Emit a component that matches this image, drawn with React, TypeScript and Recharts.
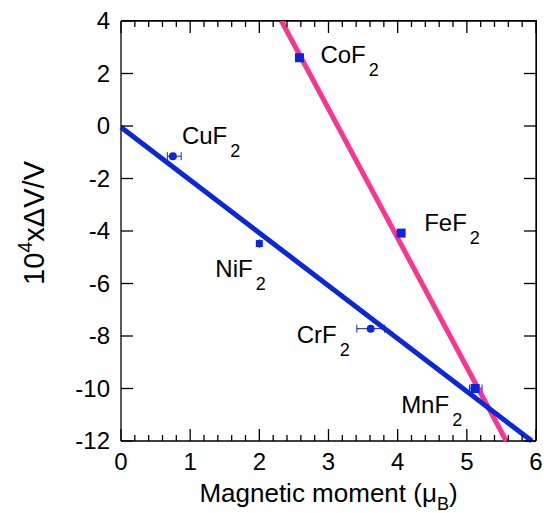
import React from 'react';
import { ComposedChart, ErrorBar, Label, ReferenceLine, Scatter, XAxis, YAxis } from 'recharts';

// measured points
const compounds = ['CuF2', 'NiF2', 'CoF2', 'FeF2', 'CrF2', 'MnF2'];
const moments = [0.75, 2.0, 2.58, 4.05, 3.61, 5.12];
const volumeChange = [-1.15, -4.48, 2.6, -4.08, -7.72, -10.0];
const momentErrLow = [0.08, 0, 0, 0, 0.2, 0.08];
const momentErrHigh = [0.12, 0, 0, 0, 0.2, 0.1];

// fitted lines
const blueFitX = [0, 5.94];
const blueFitY = [-0.05, -12];
const pinkFitX = [2.32, 5.57];
const pinkFitY = [4, -12];

const xTicks = [
  0, 0.2, 0.4, 0.6, 0.8, 1, 1.2, 1.4, 1.6, 1.8, 2, 2.2, 2.4, 2.6, 2.8, 3,
  3.2, 3.4, 3.6, 3.8, 4, 4.2, 4.4, 4.6, 4.8, 5, 5.2, 5.4, 5.6, 5.8, 6,
];
const yTicks = [-12, -10, -8, -6, -4, -2, 0, 2, 4];
const X_MAX = 6;
const Y_MAX = 4;

const BLUE = '#0b28d8';
const MARKER = '#0a24e6';
const PINK = '#f8358f';
const FONT = '"Liberation Sans", Arial, sans-serif';

const W = 544;
const H = 513;
const MARGIN = { top: 21, right: 8, bottom: 0, left: 0 };
const Y_AXIS_W = 121;
const X_AXIS_H = 72;
const PLOT_TOP = 21;
const PLOT_RIGHT = 536;

// marker shape and label placement per compound (pixels from the point)
const pointStyle: Record<string, { shape: 'square' | 'circle'; size: number; dx: number; dy: number }> = {
  CuF2: { shape: 'circle', size: 8, dx: 9, dy: -12 },
  NiF2: { shape: 'square', size: 7, dx: -44, dy: 33 },
  CoF2: { shape: 'square', size: 9, dx: 21, dy: 5 },
  FeF2: { shape: 'square', size: 9, dx: 23, dy: -2 },
  CrF2: { shape: 'circle', size: 8, dx: -74, dy: 14 },
  MnF2: { shape: 'square', size: 9, dx: -74, dy: 24 },
};

const points = compounds.map((name, i) => ({
  name,
  x: moments[i],
  y: volumeChange[i],
  err: [momentErrLow[i], momentErrHigh[i]],
}));
const blueFit = blueFitX.map((x, i) => ({ x, y: blueFitY[i] }));
const pinkFit = pinkFitX.map((x, i) => ({ x, y: pinkFitY[i] }));

const renderPoint = (props: any) => {
  const { cx, cy, payload } = props;
  const s = pointStyle[payload.name];
  const base = payload.name.slice(0, -1);
  const sub = payload.name.slice(-1);
  return (
    <g>
      {s.shape === 'square' ? (
        <rect x={cx - s.size / 2} y={cy - s.size / 2} width={s.size} height={s.size} fill={MARKER} />
      ) : (
        <circle cx={cx} cy={cy} r={s.size / 2} fill={MARKER} />
      )}
      <text x={cx + s.dx} y={cy + s.dy} fontSize={24} fill="#000" fontFamily={FONT}>
        {base}
        <tspan fontSize={18} dx={3} dy={13}>
          {sub}
        </tspan>
      </text>
    </g>
  );
};

// bottom ticks point inward; the same ticks are mirrored on the top edge
const XTick = (props: any) => {
  const { x, y, payload } = props;
  const len = Number.isInteger(payload.value) ? 12 : 6;
  return (
    <g>
      <line x1={x} y1={y} x2={x} y2={y - len} stroke="#000" strokeWidth={1.3} />
      <line x1={x} y1={PLOT_TOP} x2={x} y2={PLOT_TOP + len} stroke="#000" strokeWidth={1.3} />
      {len === 12 && (
        <text x={x} y={y + 29} textAnchor="middle" fontSize={24} fill="#000" fontFamily={FONT}>
          {payload.value}
        </text>
      )}
    </g>
  );
};

// left ticks point inward; mirrored on the right edge
const YTick = (props: any) => {
  const { x, y, payload } = props;
  return (
    <g>
      <line x1={x} y1={y} x2={x + 12} y2={y} stroke="#000" strokeWidth={1.3} />
      <line x1={PLOT_RIGHT} y1={y} x2={PLOT_RIGHT - 12} y2={y} stroke="#000" strokeWidth={1.3} />
      <text x={x - 11} y={y + 8} textAnchor="end" fontSize={24} fill="#000" fontFamily={FONT}>
        {payload.value}
      </text>
    </g>
  );
};

const XTitle = (props: any) => {
  const { x, y, width } = props.viewBox;
  return (
    <text x={x + width / 2} y={y + 61} textAnchor="middle" fontSize={26} fill="#000" fontFamily={FONT}>
      Magnetic moment (μ
      <tspan fontSize={18} dy={8}>B</tspan>
      <tspan dy={-8}>)</tspan>
    </text>
  );
};

const YTitle = (props: any) => {
  const { x, y, height } = props.viewBox;
  const tx = x + 44;
  const ty = y + height / 2 - 8;
  return (
    <text
      x={tx}
      y={ty}
      transform={`rotate(-90 ${tx} ${ty})`}
      textAnchor="middle"
      fontSize={29}
      fill="#000"
      fontFamily={FONT}
    >
      10
      <tspan fontSize={20} dy={-12}>4</tspan>
      <tspan dy={12}>xΔV/V</tspan>
    </text>
  );
};

const noDot = () => <g />;

export default function App() {
  const axisLine = { stroke: '#000', strokeWidth: 1.3 };
  return (
    <div style={{ position: 'absolute', left: 0, top: 0, width: W, height: H, fontFamily: FONT }}>
      <ComposedChart width={W} height={H} margin={MARGIN}>
        <XAxis
          type="number"
          dataKey="x"
          domain={[0, X_MAX]}
          ticks={xTicks}
          interval={0}
          tickLine={false}
          tickSize={0}
          tickMargin={0}
          tick={(p: any) => <XTick {...p} />}
          axisLine={axisLine}
          height={X_AXIS_H}
        >
          <Label content={(p: any) => <XTitle {...p} />} />
        </XAxis>
        <YAxis
          type="number"
          dataKey="y"
          domain={[-12, Y_MAX]}
          ticks={yTicks}
          interval={0}
          tickLine={false}
          tickSize={0}
          tickMargin={0}
          tick={(p: any) => <YTick {...p} />}
          axisLine={axisLine}
          width={Y_AXIS_W}
        >
          <Label content={(p: any) => <YTitle {...p} />} />
        </YAxis>
        <ReferenceLine y={Y_MAX} stroke="#000" strokeWidth={1.3} />
        <ReferenceLine x={X_MAX} stroke="#000" strokeWidth={1.3} />
        <Scatter
          data={pinkFit}
          line={{ stroke: PINK, strokeWidth: 5 }}
          lineType="joint"
          shape={noDot}
          isAnimationActive={false}
        />
        <Scatter
          data={blueFit}
          line={{ stroke: BLUE, strokeWidth: 5 }}
          lineType="joint"
          shape={noDot}
          isAnimationActive={false}
        />
        <Scatter data={points} shape={renderPoint} isAnimationActive={false}>
          <ErrorBar dataKey="err" direction="x" width={4} stroke={MARKER} strokeWidth={1} />
        </Scatter>
      </ComposedChart>
      {/* top and right edges of the plot frame */}
      <div
        style={{
          position: 'absolute',
          left: Y_AXIS_W,
          top: PLOT_TOP - 0.65,
          width: PLOT_RIGHT - Y_AXIS_W + 0.65,
          height: H - X_AXIS_H - PLOT_TOP,
          borderTop: '1.3px solid #000',
          borderRight: '1.3px solid #000',
          boxSizing: 'border-box',
          pointerEvents: 'none',
        }}
      />
    </div>
  );
}
